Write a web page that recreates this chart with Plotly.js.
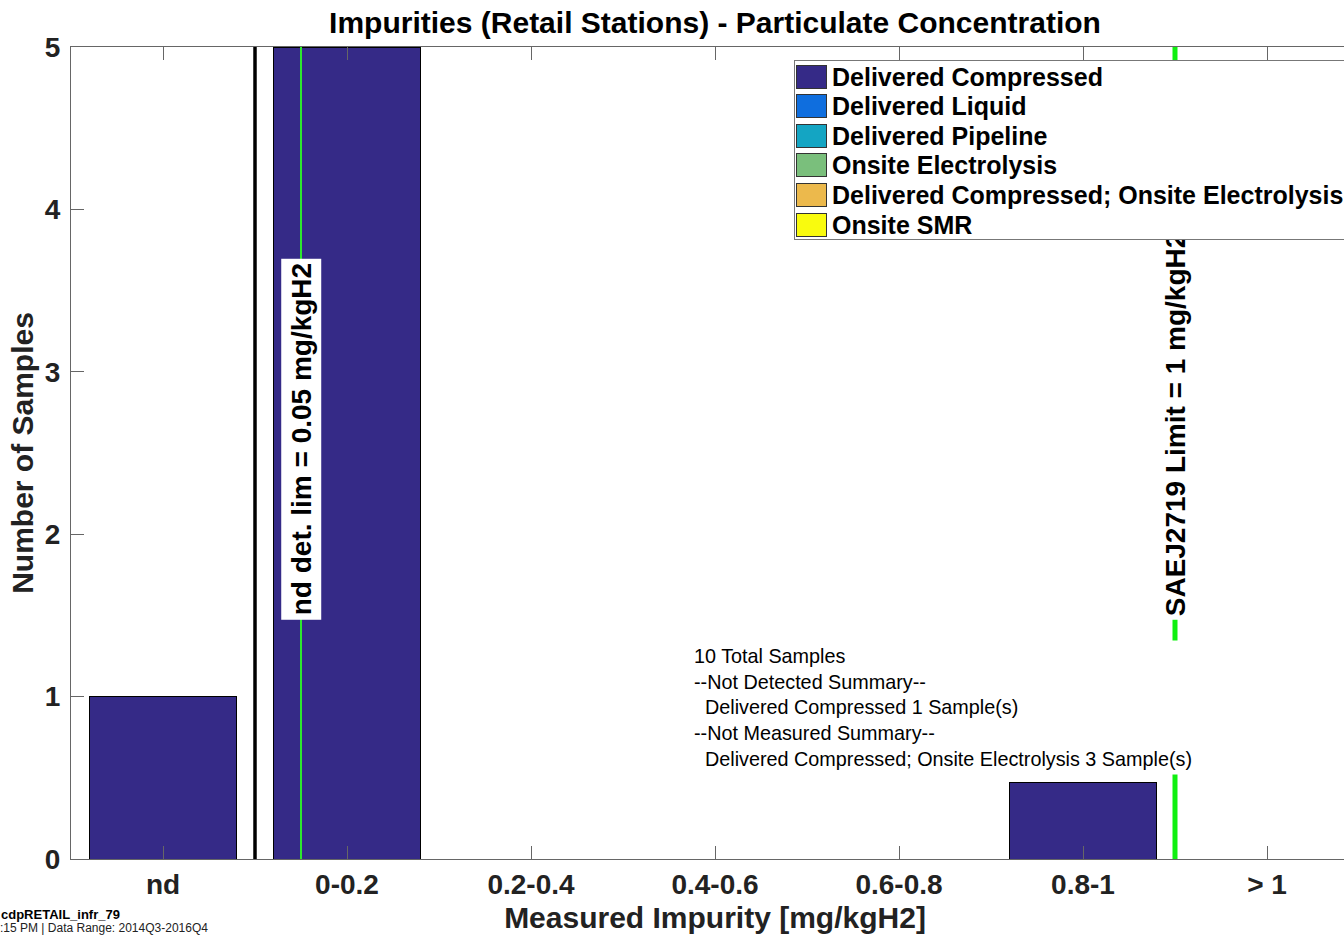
<!DOCTYPE html>
<html><head><meta charset="utf-8">
<script src="https://cdn.plot.ly/plotly-3.0.1.min.js"></script>
<style>html,body{margin:0;padding:0;overflow:hidden;background:#fff;width:1344px;height:935px}</style>
</head><body><div id="chart" style="width:1400px;height:935px"></div>
<script>
// ---- data ----
const categories = ['nd', '0-0.2', '0.2-0.4', '0.4-0.6', '0.6-0.8', '0.8-1', '> 1'];
const seriesNames = ['Delivered Compressed', 'Delivered Liquid', 'Delivered Pipeline', 'Onsite Electrolysis', 'Delivered Compressed; Onsite Electrolysis', 'Onsite SMR'];
const seriesColors = ['#352a87', '#0f6ede', '#14a5c3', '#7abf7c', '#ecb94c', '#f9fb0e'];
const deliveredCompressed = [1, 5, 0, 0, 0, 0.47, 0];
const deliveredLiquid = [0, 0, 0, 0, 0, 0, 0];
const deliveredPipeline = [0, 0, 0, 0, 0, 0, 0];
const onsiteElectrolysis = [0, 0, 0, 0, 0, 0, 0];
const deliveredCompressedOnsiteElectrolysis = [0, 0, 0, 0, 0, 0, 0];
const onsiteSMR = [0, 0, 0, 0, 0, 0, 0];
const seriesValues = [deliveredCompressed, deliveredLiquid, deliveredPipeline, onsiteElectrolysis, deliveredCompressedOnsiteElectrolysis, onsiteSMR];
const binWidth = 0.2;          // mg/kgH2 per measured bin
const ndDetLimit = 0.05;       // mg/kgH2
const saeLimit = 1;            // mg/kgH2
const ndLabel = 'nd det. lim = 0.05 mg/kgH2';
const saeLabel = 'SAEJ2719 Limit = 1 mg/kgH2';
const summaryLines = ['10 Total Samples', '--Not Detected Summary--', '&nbsp;&nbsp;Delivered Compressed 1 Sample(s)', '--Not Measured Summary--', '&nbsp;&nbsp;Delivered Compressed; Onsite Electrolysis 3 Sample(s)'];
const footerLines = ['cdpRETAIL_infr_79', ':15 PM | Data Range: 2014Q3-2016Q4'];

// ---- layout helpers ----
const FONT = 'Liberation Sans, Arial, Helvetica, sans-serif';
const W = 1400, H = 935, ML = 71, MR = 41, MT = 47, MB = 76;
const PW = W - ML - MR, PH = H - MT - MB;
const pxX = p => (p - ML) / PW;          // pixel -> paper x
const pxY = p => (H - MB - p) / PH;      // pixel -> paper y
const xPos = categories.map((c, i) => i + 1);
const valueToX = v => 1.5 + v / binWidth; // measured value -> category axis coordinate

const traces = seriesNames.map((name, k) => ({
  type: 'bar', name: name, x: xPos, y: seriesValues[k], width: 0.8,
  marker: {color: seriesColors[k], line: {color: '#000', width: 1}},
  showlegend: false, hoverinfo: 'x+y+name'
}));

const shapes = [
  {type: 'line', xref: 'x', yref: 'paper', x0: 1.5, x1: 1.5, y0: 0, y1: 1, line: {color: '#000', width: 3.5}, layer: 'above'},
  {type: 'line', xref: 'x', yref: 'paper', x0: valueToX(ndDetLimit), x1: valueToX(ndDetLimit), y0: 0, y1: 1, line: {color: '#2ee82e', width: 2}, layer: 'above'},
  {type: 'line', xref: 'x', yref: 'paper', x0: valueToX(saeLimit), x1: valueToX(saeLimit), y0: 0, y1: 1, line: {color: '#10f010', width: 5}, layer: 'above'}
];

const annotations = [
  {xref: 'x', yref: 'y', x: valueToX(ndDetLimit), y: 1.47, xanchor: 'center', yanchor: 'bottom', textangle: -90,
   text: ndLabel, showarrow: false, bgcolor: '#fff', borderpad: 4,
   font: {family: FONT, size: 28, color: '#000', weight: 'bold'}},
  {xref: 'x', yref: 'y', x: valueToX(saeLimit), y: 1.47, xanchor: 'center', yanchor: 'bottom', textangle: -90,
   text: saeLabel, showarrow: false, bgcolor: '#fff', borderpad: 3,
   font: {family: FONT, size: 28, color: '#000', weight: 'bold'}},
  {xref: 'paper', yref: 'paper', x: pxX(689), y: pxY(640), xanchor: 'left', yanchor: 'top', align: 'left',
   text: summaryLines.join('<br>'), showarrow: false, bgcolor: '#fff', borderpad: 4,
   font: {family: FONT, size: 19.8, color: '#000'}},
  // legend box
  {xref: 'paper', yref: 'paper', x: pxX(794), y: pxY(60), xanchor: 'left', yanchor: 'top',
   text: '&nbsp;', showarrow: false, width: 640, height: 178, bgcolor: '#fff', bordercolor: '#777', borderwidth: 1, borderpad: 0}
];
seriesNames.forEach((name, i) => {
  const cy = 76.5 + i * 29.6;
  annotations.push({xref: 'paper', yref: 'paper', x: pxX(811.5), y: pxY(cy), xanchor: 'center', yanchor: 'middle',
    text: '&nbsp;', showarrow: false, width: 29, height: 22, bgcolor: seriesColors[i], bordercolor: '#333', borderwidth: 1, borderpad: 0,
    font: {size: 8}});
  annotations.push({xref: 'paper', yref: 'paper', x: pxX(831), y: pxY(cy), xanchor: 'left', yanchor: 'middle',
    text: name, showarrow: false, borderpad: 0,
    font: {family: FONT, size: 25, color: '#000', weight: 'bold'}});
});
annotations.push({xref: 'paper', yref: 'paper', x: pxX(0), y: pxY(914), xanchor: 'left', yanchor: 'middle',
  text: footerLines[0], showarrow: false, borderpad: 0, font: {family: FONT, size: 13, color: '#000', weight: 'bold'}});
annotations.push({xref: 'paper', yref: 'paper', x: pxX(-1), y: pxY(928), xanchor: 'left', yanchor: 'middle',
  text: footerLines[1], showarrow: false, borderpad: 0, font: {family: FONT, size: 12, color: '#222'}});

const axisCommon = {
  ticks: 'inside', ticklen: 13, tickwidth: 1, tickcolor: '#666',
  showline: true, linecolor: '#666', linewidth: 1, mirror: 'ticks',
  showgrid: false, zeroline: false, automargin: false,
  tickfont: {family: FONT, size: 28, color: '#222', weight: 'bold'}
};

const layout = {
  width: W, height: H,
  margin: {l: ML, r: MR, t: MT, b: MB, pad: 0},
  paper_bgcolor: '#fff', plot_bgcolor: '#fff',
  barmode: 'stack', showlegend: false,
  title: {text: 'Impurities (Retail Stations) - Particulate Concentration', x: 0.5, xref: 'paper',
          y: 1 - 22 / H, yref: 'container', yanchor: 'middle',
          font: {family: FONT, size: 30, color: '#000', weight: 'bold'}},
  xaxis: Object.assign({}, axisCommon, {
    range: [0.5, 7.5], tickmode: 'array', tickvals: xPos, ticktext: categories, ticklabelstandoff: 0,
    title: {text: 'Measured Impurity [mg/kgH2]', standoff: 8, font: {family: FONT, size: 30, color: '#222', weight: 'bold'}}
  }),
  yaxis: Object.assign({}, axisCommon, {
    range: [0, 5], tickmode: 'linear', tick0: 0, dtick: 1, ticklabelstandoff: 4,
    title: {text: 'Number of Samples', standoff: 2, font: {family: FONT, size: 30, color: '#222', weight: 'bold'}}
  }),
  shapes: shapes,
  annotations: annotations
};

Plotly.newPlot('chart', traces, layout, {displayModeBar: false, staticPlot: true});
</script>
</body></html>
